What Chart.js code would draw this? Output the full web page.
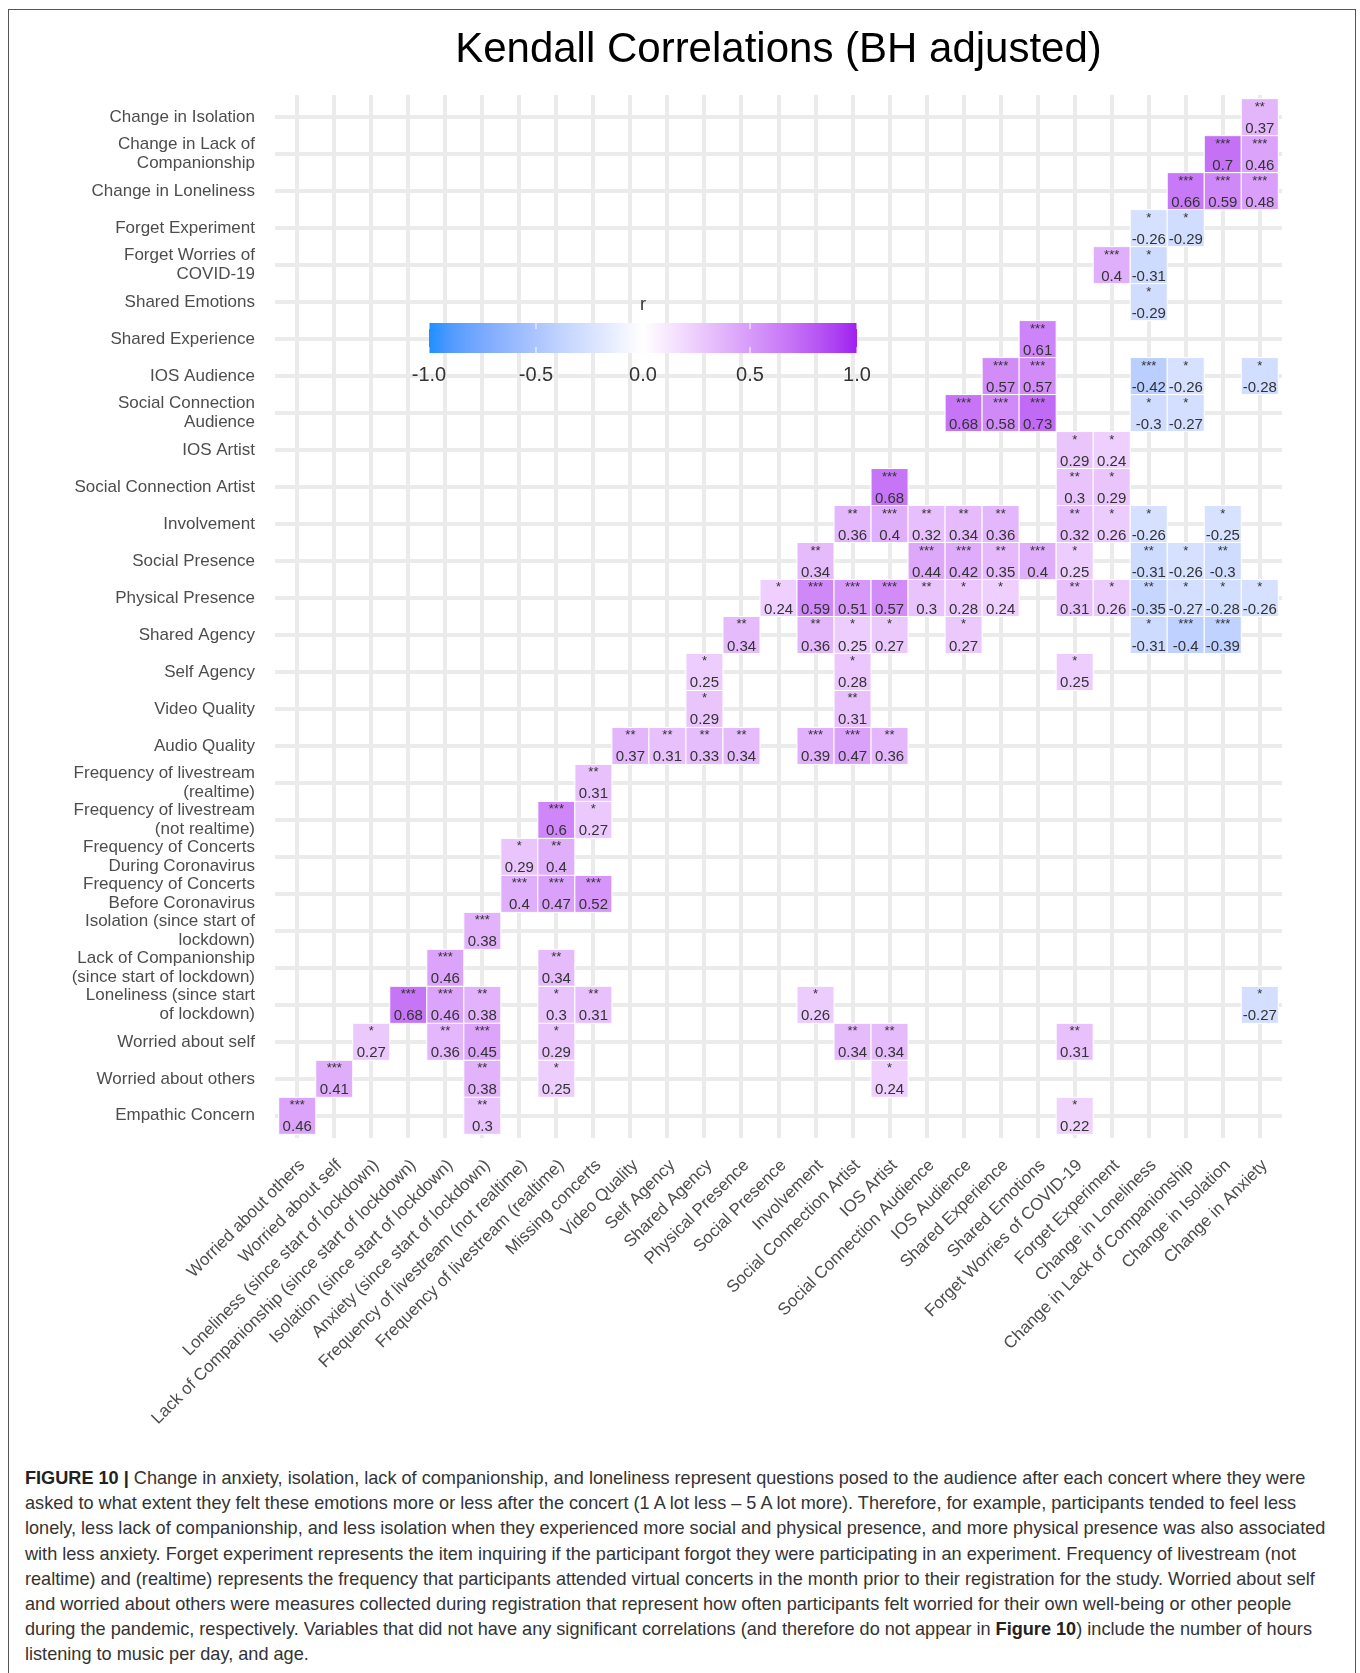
<!DOCTYPE html>
<html>
<head>
<meta charset="utf-8">
<script src="https://cdn.jsdelivr.net/npm/chart.js@4.4.1/dist/chart.umd.min.js"></script>
<style>
  html, body { margin: 0; padding: 0; background: #fff; }
  #page { position: relative; width: 1360px; height: 1673px; overflow: hidden; }
  #frame { position: absolute; left: 8px; top: 9px; width: 1348px; height: 1670px; border: 1px solid #555; box-sizing: border-box; }
  #chart { position: absolute; left: 0; top: 0; }
  #caption { position: absolute; left: 25px; top: 1465px; font-family: "Liberation Sans", Arial, sans-serif; font-size: 19px; line-height: 25.2px; color: #333; white-space: nowrap; transform-origin: 0 0; }
  #caption b { color: #222; }
</style>
</head>
<body>
<div id="page">
  <div id="frame"></div>
  <canvas id="chart" width="1360" height="1440"></canvas>
  <div id="caption">
    <div><span><b>FIGURE 10 |</b> Change in anxiety, isolation, lack of companionship, and loneliness represent questions posed to the audience after each concert where they were</span></div>
    <div><span>asked to what extent they felt these emotions more or less after the concert (1 A lot less – 5 A lot more). Therefore, for example, participants tended to feel less</span></div>
    <div><span>lonely, less lack of companionship, and less isolation when they experienced more social and physical presence, and more physical presence was also associated</span></div>
    <div><span>with less anxiety. Forget experiment represents the item inquiring if the participant forgot they were participating in an experiment. Frequency of livestream (not</span></div>
    <div><span>realtime) and (realtime) represents the frequency that participants attended virtual concerts in the month prior to their registration for the study. Worried about self</span></div>
    <div><span>and worried about others were measures collected during registration that represent how often participants felt worried for their own well-being or other people</span></div>
    <div><span>during the pandemic, respectively. Variables that did not have any significant correlations (and therefore do not appear in <b>Figure 10</b>) include the number of hours</span></div>
    <div><span>listening to music per day, and age.</span></div>
  </div>
</div>
<script>
// column variables (left to right)
const xLabels = [
  "Worried about others", "Worried about self", "Loneliness (since start of lockdown)",
  "Lack of Companionship (since start of lockdown)", "Isolation (since start of lockdown)",
  "Anxiety (since start of lockdown)", "Frequency of livestream (not realtime)",
  "Frequency of livestream (realtime)", "Missing concerts", "Video Quality", "Self Agency",
  "Shared Agency", "Physical Presence", "Social Presence", "Involvement",
  "Social Connection Artist", "IOS Artist", "Social Connection Audience", "IOS Audience",
  "Shared Experience", "Shared Emotions", "Forget Worries of COVID-19", "Forget Experiment",
  "Change in Loneliness", "Change in Lack of Companionship", "Change in Isolation", "Change in Anxiety"
];

// row variables (bottom to top)
const yLabels = [
  "Empathic Concern", "Worried about others", "Worried about self",
  ["Loneliness (since start", "of lockdown)"],
  ["Lack of Companionship", "(since start of lockdown)"],
  ["Isolation (since start of", "lockdown)"],
  ["Frequency of Concerts", "Before Coronavirus"],
  ["Frequency of Concerts", "During Coronavirus"],
  ["Frequency of livestream", "(not realtime)"],
  ["Frequency of livestream", "(realtime)"],
  "Audio Quality", "Video Quality", "Self Agency", "Shared Agency", "Physical Presence",
  "Social Presence", "Involvement", "Social Connection Artist", "IOS Artist",
  ["Social Connection", "Audience"],
  "IOS Audience", "Shared Experience", "Shared Emotions",
  ["Forget Worries of", "COVID-19"],
  "Forget Experiment", "Change in Loneliness",
  ["Change in Lack of", "Companionship"],
  "Change in Isolation"
];

// significant cells, one line per row (top row first)
const cellRow = [
  27,
  26, 26,
  25, 25, 25,
  24, 24,
  23, 23,
  22,
  21,
  20, 20, 20, 20, 20,
  19, 19, 19, 19, 19,
  18, 18,
  17, 17, 17,
  16, 16, 16, 16, 16, 16, 16, 16, 16,
  15, 15, 15, 15, 15, 15, 15, 15, 15,
  14, 14, 14, 14, 14, 14, 14, 14, 14, 14, 14, 14, 14,
  13, 13, 13, 13, 13, 13, 13, 13,
  12, 12, 12,
  11, 11,
  10, 10, 10, 10, 10, 10, 10,
  9,
  8, 8,
  7, 7,
  6, 6, 6,
  5,
  4, 4,
  3, 3, 3, 3, 3, 3, 3,
  2, 2, 2, 2, 2, 2, 2,
  1, 1, 1, 1,
  0, 0, 0
];
const cellCol = [
  26,
  25, 26,
  24, 25, 26,
  23, 24,
  22, 23,
  23,
  20,
  19, 20, 23, 24, 26,
  18, 19, 20, 23, 24,
  21, 22,
  16, 21, 22,
  15, 16, 17, 18, 19, 21, 22, 23, 25,
  14, 17, 18, 19, 20, 21, 23, 24, 25,
  13, 14, 15, 16, 17, 18, 19, 21, 22, 23, 24, 25, 26,
  12, 14, 15, 16, 18, 23, 24, 25,
  11, 15, 21,
  11, 15,
  9, 10, 11, 12, 14, 15, 16,
  8,
  7, 8,
  6, 7,
  6, 7, 8,
  5,
  4, 7,
  3, 4, 5, 7, 8, 14, 26,
  2, 4, 5, 7, 15, 16, 21,
  1, 5, 7, 16,
  0, 5, 21
];
const cellR = [
  0.37,
  0.7, 0.46,
  0.66, 0.59, 0.48,
  -0.26, -0.29,
  0.4, -0.31,
  -0.29,
  0.61,
  0.57, 0.57, -0.42, -0.26, -0.28,
  0.68, 0.58, 0.73, -0.3, -0.27,
  0.29, 0.24,
  0.68, 0.3, 0.29,
  0.36, 0.4, 0.32, 0.34, 0.36, 0.32, 0.26, -0.26, -0.25,
  0.34, 0.44, 0.42, 0.35, 0.4, 0.25, -0.31, -0.26, -0.3,
  0.24, 0.59, 0.51, 0.57, 0.3, 0.28, 0.24, 0.31, 0.26, -0.35, -0.27, -0.28, -0.26,
  0.34, 0.36, 0.25, 0.27, 0.27, -0.31, -0.4, -0.39,
  0.25, 0.28, 0.25,
  0.29, 0.31,
  0.37, 0.31, 0.33, 0.34, 0.39, 0.47, 0.36,
  0.31,
  0.6, 0.27,
  0.29, 0.4,
  0.4, 0.47, 0.52,
  0.38,
  0.46, 0.34,
  0.68, 0.46, 0.38, 0.3, 0.31, 0.26, -0.27,
  0.27, 0.36, 0.45, 0.29, 0.34, 0.34, 0.31,
  0.41, 0.38, 0.25, 0.24,
  0.46, 0.3, 0.22
];
const cellSig = [
  "**",
  "***", "***",
  "***", "***", "***",
  "*", "*",
  "***", "*",
  "*",
  "***",
  "***", "***", "***", "*", "*",
  "***", "***", "***", "*", "*",
  "*", "*",
  "***", "**", "*",
  "**", "***", "**", "**", "**", "**", "*", "*", "*",
  "**", "***", "***", "**", "***", "*", "**", "*", "**",
  "*", "***", "***", "***", "**", "*", "*", "**", "*", "**", "*", "*", "*",
  "**", "**", "*", "*", "*", "*", "***", "***",
  "*", "*", "*",
  "*", "**",
  "**", "**", "**", "**", "***", "***", "**",
  "**",
  "***", "*",
  "*", "**",
  "***", "***", "***",
  "***",
  "***", "**",
  "***", "***", "**", "*", "**", "*", "*",
  "*", "**", "***", "*", "**", "**", "**",
  "***", "**", "*", "*",
  "***", "**", "*"
];
const legendTicks = [-1, -0.5, 0, 0.5, 1];

const FONT = '"Liberation Sans", Arial, sans-serif';
const LOW = [30, 144, 255];   // r = -1
const MID = [255, 255, 255];  // r = 0
const HIGH = [160, 32, 240];  // r = 1

// colour ramp interpolated in CIELAB, like ggplot's gradient2
function toLab(c) {
  const lin = v => { v /= 255; return v <= 0.04045 ? v / 12.92 : Math.pow((v + 0.055) / 1.055, 2.4); };
  const R = lin(c[0]), G = lin(c[1]), B = lin(c[2]);
  const f = t => t > 0.008856 ? Math.cbrt(t) : 7.787 * t + 16 / 116;
  const fx = f((0.4124 * R + 0.3576 * G + 0.1805 * B) / 0.95047);
  const fy = f(0.2126 * R + 0.7152 * G + 0.0722 * B);
  const fz = f((0.0193 * R + 0.1192 * G + 0.9505 * B) / 1.08883);
  return [116 * fy - 16, 500 * (fx - fy), 200 * (fy - fz)];
}
function fromLab(l) {
  const fy = (l[0] + 16) / 116, fx = fy + l[1] / 500, fz = fy - l[2] / 200;
  const inv = t => t * t * t > 0.008856 ? t * t * t : (t - 16 / 116) / 7.787;
  const X = inv(fx) * 0.95047, Y = inv(fy), Z = inv(fz) * 1.08883;
  const gam = v => {
    v = v <= 0.0031308 ? 12.92 * v : 1.055 * Math.pow(v, 1 / 2.4) - 0.055;
    return Math.round(Math.min(1, Math.max(0, v)) * 255);
  };
  return [gam(3.2406 * X - 1.5372 * Y - 0.4986 * Z),
          gam(-0.9689 * X + 1.8758 * Y + 0.0415 * Z),
          gam(0.0557 * X - 0.2040 * Y + 1.0570 * Z)];
}
function fillFor(r) {
  const a = toLab(MID), b = toLab(r < 0 ? LOW : HIGH), t = Math.min(1, Math.abs(r));
  const c = fromLab(a.map((v, i) => v + (b[i] - v) * t));
  return `rgb(${c[0]}, ${c[1]}, ${c[2]})`;
}

function cellSide(chart) {
  const s = chart.scales.x;
  return Math.abs(s.getPixelForValue(1) - s.getPixelForValue(0));
}

// value and significance stars inside each tile
const cellText = {
  id: "cellText",
  afterDatasetsDraw(chart) {
    const ctx = chart.ctx;
    const half = cellSide(chart) / 2;
    ctx.save();
    ctx.fillStyle = "#333";
    ctx.textAlign = "center";
    ctx.textBaseline = "alphabetic";
    chart.getDatasetMeta(0).data.forEach((pt, i) => {
      ctx.font = "13px " + FONT;
      ctx.fillText(cellSig[i], pt.x, pt.y - half + 12);
      ctx.font = "15px " + FONT;
      ctx.fillText(String(cellR[i]), pt.x, pt.y + half - 3);
    });
    ctx.restore();
  }
};

// colourbar legend drawn inside the panel
const colorBar = {
  id: "colorBar",
  afterDraw(chart, args, opts) {
    const ctx = chart.ctx, area = chart.chartArea;
    const left = area.left + opts.dx, top = area.top + opts.dy, w = opts.width, h = opts.height;
    const grad = ctx.createLinearGradient(left, 0, left + w, 0);
    for (let s = 0; s <= 20; s++) grad.addColorStop(s / 20, fillFor(-1 + s / 10));
    ctx.save();
    ctx.fillStyle = grad;
    ctx.fillRect(left, top, w, h);
    ctx.strokeStyle = "#fff";
    ctx.lineWidth = 1;
    ctx.fillStyle = "#333";
    ctx.textAlign = "center";
    ctx.textBaseline = "middle";
    legendTicks.forEach(v => {
      const x = left + (v + 1) / 2 * w;
      ctx.beginPath();
      ctx.moveTo(x, top); ctx.lineTo(x, top + h / 5);
      ctx.moveTo(x, top + h); ctx.lineTo(x, top + h - h / 5);
      ctx.stroke();
      ctx.font = "20px " + FONT;
      ctx.fillText(v.toFixed(1), x, top + h + 22);
    });
    ctx.font = "18px " + FONT;
    ctx.fillText("r", left + w / 2, top - 18);
    ctx.restore();
  }
};

const axisTicks = {
  color: "#4d4d4d",
  autoSkip: false,
  font: { family: FONT, size: 17, lineHeight: 1.13 }
};

new Chart(document.getElementById("chart"), {
  type: "scatter",
  data: {
    datasets: [{
      data: cellR.map((r, i) => ({ x: cellCol[i], y: cellRow[i], r: r })),
      pointStyle: "rect",
      pointRadius: ctx => cellSide(ctx.chart) / 2 / Math.SQRT1_2,
      pointHoverRadius: ctx => cellSide(ctx.chart) / 2 / Math.SQRT1_2,
      backgroundColor: ctx => fillFor(ctx.raw.r),
      borderColor: "#fff",
      borderWidth: 1
    }]
  },
  options: {
    responsive: false,
    animation: false,
    layout: { padding: { left: 10, right: 78, top: 8, bottom: 12 } },
    scales: {
      x: {
        type: "linear",
        min: -0.6,
        max: xLabels.length - 0.4,
        afterBuildTicks: s => { s.ticks = xLabels.map((_, i) => ({ value: i })); },
        afterFit: s => { s.height = 290; },
        grid: { color: "#ebebeb", lineWidth: 4, drawTicks: false },
        border: { display: false },
        ticks: Object.assign({}, axisTicks, {
          minRotation: 45, maxRotation: 45, padding: 18, labelOffset: 5,
          callback: v => xLabels[v]
        })
      },
      y: {
        type: "linear",
        min: -0.6,
        max: yLabels.length - 0.4,
        afterBuildTicks: s => { s.ticks = yLabels.map((_, i) => ({ value: i })); },
        afterFit: s => { s.width = 265; },
        grid: { color: "#ebebeb", lineWidth: 4, drawTicks: false },
        border: { display: false },
        ticks: Object.assign({}, axisTicks, {
          padding: 20,
          callback: v => yLabels[v]
        })
      }
    },
    plugins: {
      legend: { display: false },
      tooltip: { enabled: false },
      title: {
        display: true,
        text: "Kendall Correlations (BH adjusted)",
        fullSize: false,
        color: "#000",
        font: { family: FONT, size: 42, weight: "normal" },
        padding: { top: 17, bottom: 19.6 }
      },
      colorBar: { dx: 154, dy: 228, width: 428, height: 30 }
    }
  },
  plugins: [cellText, colorBar]
});

// squeeze the caption so its seven full lines together take the printed width
const caption = document.getElementById("caption");
const fullLines = Array.from(caption.querySelectorAll("span")).slice(0, 7);
const natural = fullLines.reduce((sum, s) => sum + s.getBoundingClientRect().width, 0);
caption.style.transform = `scaleX(${8966 / natural})`;
</script>
</body>
</html>
